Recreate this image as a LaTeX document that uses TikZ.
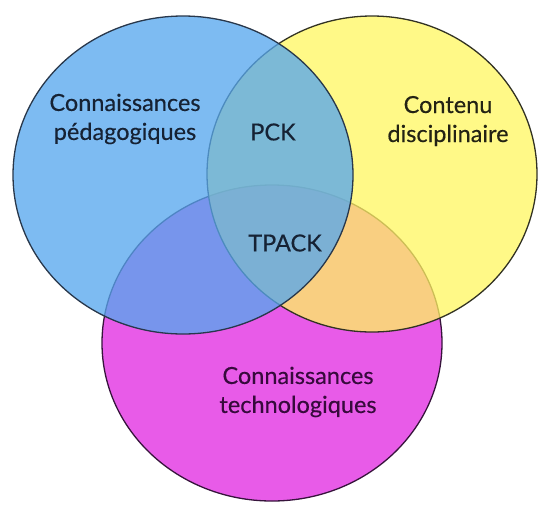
\documentclass[tikz,border=0pt]{standalone}
\usepackage{fontspec}
\setmainfont{Lato}
\newfontfamily\labfont{Lato}[FakeBold=0.35]
\usetikzlibrary{shapes.geometric}
\definecolor{cblue}{RGB}{86,167,238}
\definecolor{cyel}{RGB}{255,247,95}
\definecolor{cmag}{RGB}{232,91,232}
\definecolor{lblue}{RGB}{40,55,75}
\definecolor{lyel}{RGB}{50,50,35}
\definecolor{lmag}{RGB}{55,20,60}
\definecolor{tblue}{RGB}{22,34,52}
\definecolor{tyel}{RGB}{35,35,20}
\definecolor{tmag}{RGB}{55,10,60}
\begin{document}
\begin{tikzpicture}[x=1pt,y=-1pt,
  circ/.style={ellipse, draw, line width=1.3pt, inner sep=0pt, outer sep=0pt},
  lab/.style={align=center, font=\labfont\fontsize{23.5}{29}\selectfont}]
\useasboundingbox (0,0) rectangle (540,504);
\node[circ, fill=cmag, draw=lmag, minimum width=340pt, minimum height=316pt] (tech) at (272,343) {};
\node[circ, fill=cyel, fill opacity=0.75, draw=lyel, minimum width=330pt, minimum height=316pt] (cont) at (372,174) {};
\node[circ, fill=cblue, fill opacity=0.77, draw=lblue, minimum width=340pt, minimum height=318pt] (ped) at (183,175) {};
\node[lab, text=tblue] (tped) at (125,119) {Connaissances\\pédagogiques};
\node[lab, text=tyel] (tcont) at (448,121) {Contenu\\disciplinaire};
\node[lab, text=tmag] (ttech) at (298,392) {Connaissances\\technologiques};
\node[lab, text=tblue] (tpck) at (273,132) {PCK};
\node[lab, text=tblue] (ttpack) at (285,243) {TPACK};
\end{tikzpicture}
\end{document}
